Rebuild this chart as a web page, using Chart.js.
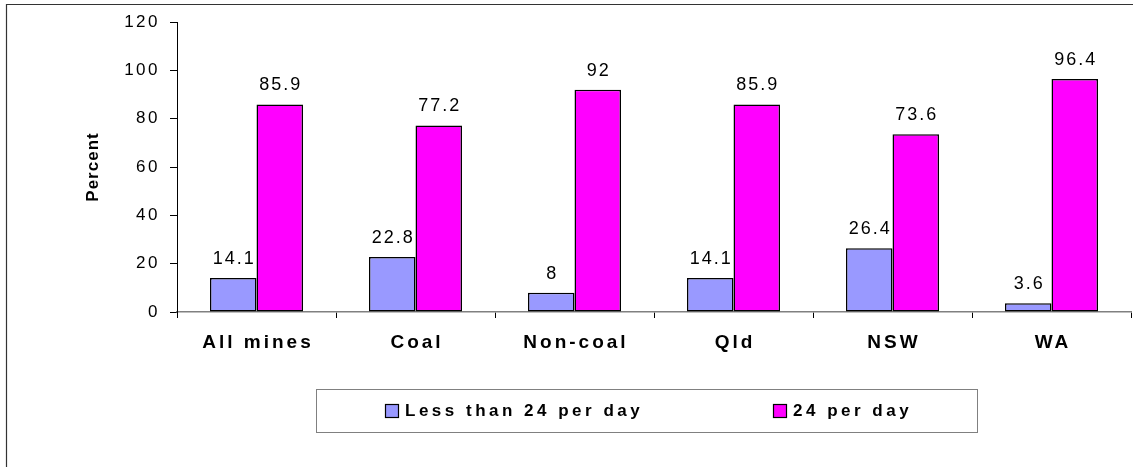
<!DOCTYPE html>
<html>
<head>
<meta charset="utf-8">
<script src="https://cdn.jsdelivr.net/npm/chart.js@4/dist/chart.umd.min.js"></script>
<style>
html, body { margin: 0; padding: 0; background: #fff; }
#wrap { width: 1133px; height: 467px; }
</style>
</head>
<body>
<div id="wrap"><canvas id="chart" width="1133" height="467"></canvas></div>
<script>
const categories = ['All mines', 'Coal', 'Non-coal', 'Qld', 'NSW', 'WA'];
const lessThan24 = [14.1, 22.8, 8, 14.1, 26.4, 3.6];
const fullDay = [85.9, 77.2, 92, 85.9, 73.6, 96.4];
const seriesNames = ['Less than 24 per day', '24 per day'];
const seriesColors = ['#9999FF', '#FF00FF'];
const yMax = 120;
const yStep = 20;

const FONT = '"Liberation Sans", Arial, Helvetica, sans-serif';

// frame, value labels, spaced category labels, axis title and legend box
const decor = {
    id: 'decor',
    beforeDraw(chart) {
        const ctx = chart.ctx;
        ctx.save();
        ctx.fillStyle = '#fff';
        ctx.fillRect(0, 0, chart.width, chart.height);
        ctx.strokeStyle = '#333';
        ctx.lineWidth = 1.2;
        ctx.beginPath();
        ctx.moveTo(6.5, chart.height);
        ctx.lineTo(6.5, 4.5);
        ctx.lineTo(chart.width, 4.5);
        ctx.stroke();
        ctx.restore();
        // y tick labels pick this up
        ctx.letterSpacing = '2.5px';
    },
    afterDatasetsDraw(chart) {
        const ctx = chart.ctx;
        ctx.save();
        ctx.letterSpacing = '2px';
        ctx.font = '18px ' + FONT;
        ctx.fillStyle = '#000';
        ctx.textAlign = 'center';
        ctx.textBaseline = 'alphabetic';
        chart.data.datasets.forEach((ds, i) => {
            chart.getDatasetMeta(i).data.forEach((bar, j) => {
                ctx.fillText(String(ds.data[j]), bar.x + 1, bar.y - 14);
            });
        });
        ctx.restore();
    },
    afterDraw(chart) {
        const ctx = chart.ctx;
        const x = chart.scales.x;
        const area = chart.chartArea;
        ctx.save();
        ctx.fillStyle = '#000';

        // category labels
        ctx.font = 'bold 19px ' + FONT;
        ctx.letterSpacing = '3px';
        ctx.textAlign = 'center';
        ctx.textBaseline = 'middle';
        categories.forEach((c, i) => {
            ctx.fillText(c, x.getPixelForTick(i) + 1.5, area.bottom + 31);
        });

        // y axis title
        ctx.save();
        ctx.font = 'bold 17px ' + FONT;
        ctx.letterSpacing = '1px';
        ctx.translate(93, (area.top + area.bottom) / 2);
        ctx.rotate(-Math.PI / 2);
        ctx.fillText('Percent', 0, 0);
        ctx.restore();

        // legend
        ctx.strokeStyle = '#808080';
        ctx.lineWidth = 1;
        ctx.strokeRect(316.5, 389.5, 661, 43);
        const items = [{ x: 385 }, { x: 773 }];
        ctx.font = 'bold 17px ' + FONT;
        ctx.letterSpacing = '3.5px';
        ctx.textAlign = 'left';
        items.forEach((it, i) => {
            ctx.fillStyle = seriesColors[i];
            ctx.fillRect(it.x, 404, 13, 13);
            ctx.strokeStyle = '#000';
            ctx.lineWidth = 1.2;
            ctx.strokeRect(it.x + 0.5, 404.5, 13, 13);
            ctx.fillStyle = '#000';
            ctx.fillText(seriesNames[i], it.x + 20, 411);
        });
        ctx.restore();
    }
};

new Chart(document.getElementById('chart'), {
    type: 'bar',
    data: {
        labels: categories,
        datasets: [
            {
                label: seriesNames[0],
                data: lessThan24,
                backgroundColor: seriesColors[0],
                borderColor: '#000',
                borderWidth: 1.5,
                borderSkipped: false
            },
            {
                label: seriesNames[1],
                data: fullDay,
                backgroundColor: seriesColors[1],
                borderColor: '#000',
                borderWidth: 1.5,
                borderSkipped: false
            }
        ]
    },
    options: {
        responsive: false,
        animation: false,
        layout: { padding: { top: 22, right: 2, left: 0, bottom: 0 } },
        datasets: { bar: { categoryPercentage: 0.585, barPercentage: 1.0 } },
        scales: {
            x: {
                grid: { display: true, drawOnChartArea: false, tickLength: 6, color: '#000', offset: true },
                border: { display: true, color: '#808080', width: 1.5 },
                ticks: { display: false },
                afterFit(scale) { scale.height = 155; }
            },
            y: {
                min: 0,
                max: yMax,
                grid: { display: true, drawOnChartArea: false, tickLength: 7, color: '#000' },
                border: { display: true, color: '#000', width: 1 },
                ticks: {
                    stepSize: yStep,
                    padding: 10,
                    color: '#000',
                    font: { family: FONT, size: 17 }
                },
                afterFit(scale) { scale.width = 177; }
            }
        },
        plugins: {
            legend: { display: false },
            tooltip: { enabled: false }
        }
    },
    plugins: [decor]
});
</script>
</body>
</html>
